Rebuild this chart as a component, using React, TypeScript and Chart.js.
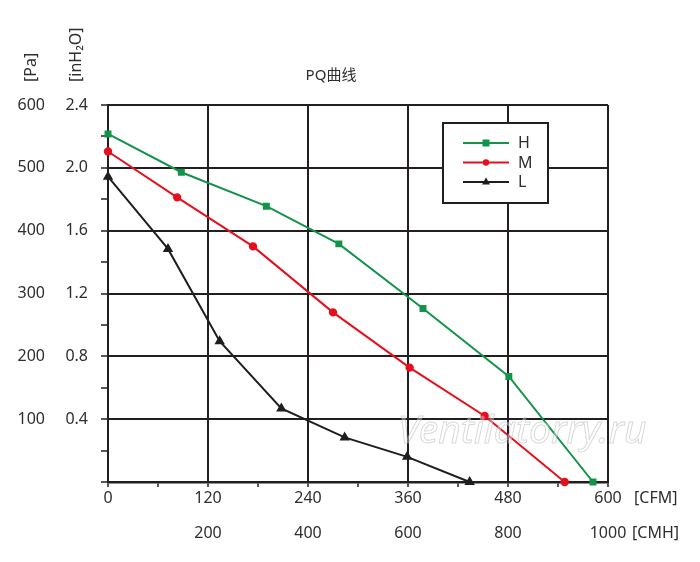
import React, { useEffect, useRef } from "react";
import { Chart, registerables } from "chart.js";

Chart.register(...registerables);

// Data
const cfmH = [0, 88, 190, 277, 378, 481, 582];
const paH = [554, 493, 439, 379, 276, 168, 0];
const cfmM = [0, 83, 174, 270, 362, 452, 548];
const paM = [526, 453, 375, 270, 182, 105, 0];
const cfmL = [0, 72, 134, 208, 284, 359, 434];
const paL = [486, 371, 224, 117, 71, 40, 0];

const seriesNames = ["H", "M", "L"];

// Tick labels
const paTicks = [100, 200, 300, 400, 500, 600];
const inH2OTicks = ["0.4", "0.8", "1.2", "1.6", "2.0", "2.4"];
const cfmTicks = [0, 120, 240, 360, 480, 600];
const cmhTicks = ["200", "400", "600", "800", "1000"];
const cmhAtCfm = [120, 240, 360, 480, 600];

const DARK = "#231f20";
const TEXT = "#2e2e2e";
const GREEN = "#12944a";
const RED = "#e60f1e";
const BLACK = "#1e1e1e";
const FONT = '"Noto Sans", "Noto Sans CJK SC", sans-serif';

const toPts = (xs: number[], ys: number[]) => xs.map((x, i) => ({ x, y: ys[i] }));

const textPlugin = {
  id: "customText",
  afterDraw(chart: any) {
    const { ctx } = chart;
    const xs = chart.scales.x;
    const ys = chart.scales.y;
    ctx.save();
    ctx.fillStyle = TEXT;
    ctx.font = `16px ${FONT}`;
    ctx.textBaseline = "middle";

    // y labels
    ctx.textAlign = "right";
    paTicks.forEach((v, i) => {
      const py = ys.getPixelForValue(v);
      ctx.fillText(String(v), 45, py);
      ctx.fillText(inH2OTicks[i], 88, py);
    });

    // x labels
    ctx.textAlign = "center";
    const rowCfm = ys.bottom + 16;
    const rowCmh = ys.bottom + 51;
    cfmTicks.forEach((v) => {
      ctx.fillText(String(v), xs.getPixelForValue(v), rowCfm);
    });
    cmhTicks.forEach((t, i) => {
      ctx.fillText(t, xs.getPixelForValue(cmhAtCfm[i]), rowCmh);
    });
    ctx.textAlign = "left";
    ctx.fillText("[CFM]", xs.right + 26, rowCfm);
    ctx.fillText("[CMH]", xs.right + 24, rowCmh);

    // title
    ctx.textAlign = "center";
    ctx.font = `15px ${FONT}`;
    ctx.fillText("PQ曲线", 331, 76);

    // axis unit titles (rotated)
    ctx.font = `16px ${FONT}`;
    ctx.textAlign = "left";
    [["[Pa]", 31], ["[inH₂O]", 76]].forEach(([t, cx]) => {
      ctx.save();
      ctx.translate(cx as number, 82);
      ctx.rotate(-Math.PI / 2);
      ctx.fillText(t as string, 0, 0);
      ctx.restore();
    });

    // legend box
    const bx = 443, by = 123, bw = 105, bh = 80;
    ctx.fillStyle = "#ffffff";
    ctx.fillRect(bx, by, bw, bh);
    ctx.strokeStyle = DARK;
    ctx.lineWidth = 2;
    ctx.strokeRect(bx, by, bw, bh);
    const colors = [GREEN, RED, BLACK];
    const rows = [143, 162.5, 182];
    rows.forEach((ry, i) => {
      ctx.strokeStyle = colors[i];
      ctx.fillStyle = colors[i];
      ctx.lineWidth = 1.8;
      ctx.beginPath();
      ctx.moveTo(463, ry);
      ctx.lineTo(509, ry);
      ctx.stroke();
      const mx = 486;
      ctx.beginPath();
      if (i === 0) {
        ctx.fillRect(mx - 3.5, ry - 3.5, 7, 7);
      } else if (i === 1) {
        ctx.arc(mx, ry, 3.2, 0, Math.PI * 2);
        ctx.fill();
      } else {
        ctx.moveTo(mx, ry - 4.5);
        ctx.lineTo(mx + 4, ry + 2.5);
        ctx.lineTo(mx - 4, ry + 2.5);
        ctx.closePath();
        ctx.fill();
      }
      ctx.fillStyle = TEXT;
      ctx.font = `16px ${FONT}`;
      ctx.textAlign = "left";
      ctx.fillText(seriesNames[i], 518, ry + 0.5);
    });

    // watermark
    ctx.font = `italic 39px ${FONT}`;
    ctx.textAlign = "left";
    ctx.textBaseline = "alphabetic";
    ctx.fillStyle = "rgba(255,255,255,0.35)";
    ctx.fillText("Ventilatorry.ru", 398, 443);
    ctx.strokeStyle = "rgba(170,170,170,0.45)";
    ctx.lineWidth = 1;
    ctx.strokeText("Ventilatorry.ru", 398, 443);
    ctx.restore();
  },
};

export default function App() {
  const ref = useRef<HTMLCanvasElement>(null);

  useEffect(() => {
    if (!ref.current) return;
    const chart = new Chart(ref.current, {
      type: "line",
      data: {
        datasets: [
          {
            label: seriesNames[0],
            data: toPts(cfmH, paH),
            borderColor: GREEN,
            backgroundColor: GREEN,
            borderWidth: 2,
            pointStyle: "rect",
            pointRadius: 3.5,
            pointHoverRadius: 3.5,
            tension: 0,
            clip: false as any,
          },
          {
            label: seriesNames[1],
            data: toPts(cfmM, paM),
            borderColor: RED,
            backgroundColor: RED,
            borderWidth: 2,
            pointStyle: "circle",
            pointRadius: 3.2,
            pointHoverRadius: 3.2,
            tension: 0,
            clip: false as any,
          },
          {
            label: seriesNames[2],
            data: toPts(cfmL, paL),
            borderColor: BLACK,
            backgroundColor: BLACK,
            borderWidth: 2,
            pointStyle: "triangle",
            pointRadius: 4,
            pointHoverRadius: 4,
            tension: 0,
            clip: false as any,
          },
        ],
      },
      options: {
        animation: false,
        responsive: true,
        maintainAspectRatio: false,
        layout: { padding: { left: 101, right: 92, top: 105, bottom: 75 } },
        plugins: {
          legend: { display: false },
          tooltip: { enabled: false },
          title: { display: false },
        },
        scales: {
          x: {
            type: "linear",
            min: 0,
            max: 600,
            ticks: { stepSize: 60, display: false },
            grid: {
              color: (c: any) => (c.tick && c.tick.value % 120 === 0 ? DARK : "rgba(0,0,0,0)"),
              tickColor: DARK,
              lineWidth: 2,
              tickWidth: 1.5,
              tickLength: 5,
            },
            border: { color: DARK, width: 2.5 },
          },
          y: {
            type: "linear",
            min: 0,
            max: 600,
            ticks: { stepSize: 50, display: false },
            grid: {
              color: (c: any) => (c.tick && c.tick.value % 100 === 0 ? DARK : "rgba(0,0,0,0)"),
              tickColor: DARK,
              lineWidth: 2,
              tickWidth: 1.5,
              tickLength: 7,
            },
            border: { color: DARK, width: 2 },
          },
        },
      },
      plugins: [textPlugin],
    });
    return () => chart.destroy();
  }, []);

  return (
    <div style={{ position: "absolute", left: 0, top: 0, width: 700, height: 562 }}>
      <canvas ref={ref} />
    </div>
  );
}
